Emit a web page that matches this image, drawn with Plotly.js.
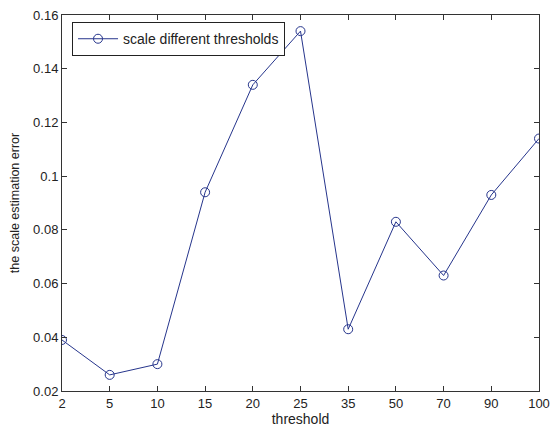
<!DOCTYPE html>
<html>
<head>
<meta charset="utf-8">
<script src="https://cdn.plot.ly/plotly-3.0.1.min.js"></script>
<style>html,body{margin:0;padding:0;background:#fff;}#chart{width:550px;height:432px;}</style>
</head>
<body>
<div id="chart"></div>
<script>
const thresholds = ['2','5','10','15','20','25','35','50','70','90','100'];
const errors = [0.039, 0.026, 0.030, 0.094, 0.134, 0.154, 0.043, 0.083, 0.063, 0.093, 0.114];
const yTicks = [0.02, 0.04, 0.06, 0.08, 0.1, 0.12, 0.14, 0.16];
const yTickText = ['0.02','0.04','0.06','0.08','0.1','0.12','0.14','0.16'];

const axisCommon = {
  showline: true, mirror: 'ticks', linecolor: '#333', linewidth: 1,
  ticks: 'inside', ticklen: 5, tickcolor: '#333', showgrid: false, zeroline: false,
  tickfont: {family: 'Liberation Sans, Arial, sans-serif', size: 13, color: '#222'}
};

Plotly.newPlot('chart', [{
  x: thresholds, y: errors, type: 'scatter', mode: 'lines+markers',
  name: 'scale different thresholds',
  line: {color: '#26358c', width: 1},
  marker: {symbol: 'circle-open', size: 9, color: '#26358c', line: {width: 1}}
}], {
  width: 550, height: 432,
  margin: {l: 62, r: 11, t: 15, b: 41},
  paper_bgcolor: '#fff', plot_bgcolor: '#fff',
  font: {family: 'Liberation Sans, Arial, sans-serif', size: 12, color: '#222'},
  xaxis: Object.assign({}, axisCommon, {
    type: 'category', range: [0, 10],
    title: {text: 'threshold', standoff: 3, font: {size: 14}}
  }),
  yaxis: Object.assign({}, axisCommon, {
    range: [0.02, 0.16], tickvals: yTicks, ticktext: yTickText,
    title: {text: 'the scale estimation error', standoff: 10, font: {size: 12.5}}
  }),
  showlegend: true,
  legend: {
    x: 0.021, y: 0.981, xanchor: 'left', yanchor: 'top',
    bgcolor: '#fff', bordercolor: '#222', borderwidth: 1,
    font: {size: 14, color: '#222'}, itemwidth: 40
  }
}, {displayModeBar: false, staticPlot: true});
</script>
</body>
</html>
